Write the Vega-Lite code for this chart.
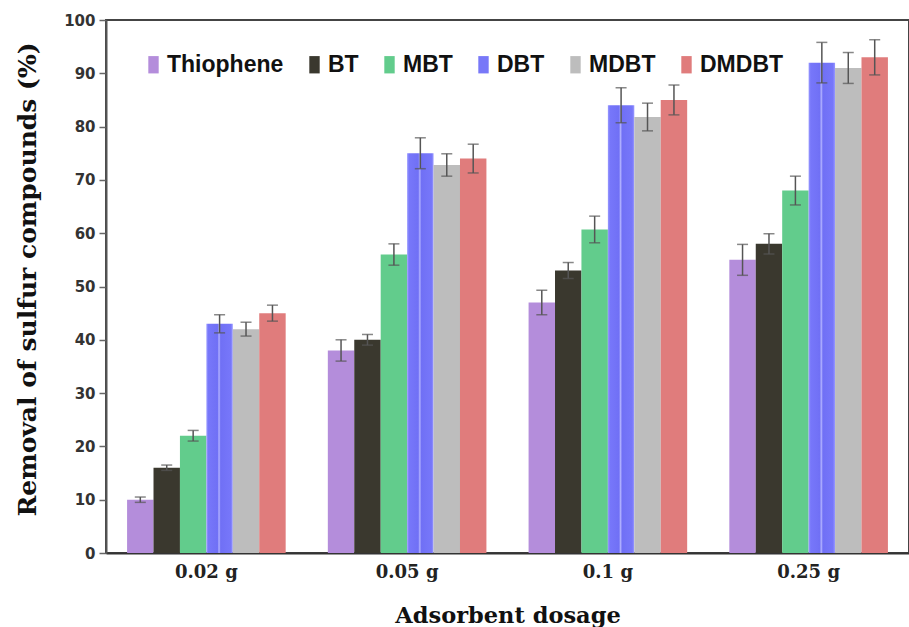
{
  "$schema": "https://vega.github.io/schema/vega-lite/v6.json",
  "width": 803,
  "height": 533,
  "autosize": {"type": "none"},
  "padding": {"left": 106, "top": 20, "right": 0, "bottom": 74},
  "background": "white",
  "config": {
    "view": {"stroke": "#444", "strokeWidth": 2},
    "axis": {"grid": false}
  },
  "data": {
    "values": [
      {"dosage": "0.02 g", "series": "Thiophene", "value": 10, "err": 0.5},
      {"dosage": "0.02 g", "series": "BT", "value": 16, "err": 0.5},
      {"dosage": "0.02 g", "series": "MBT", "value": 22, "err": 1},
      {"dosage": "0.02 g", "series": "DBT", "value": 43, "err": 1.7},
      {"dosage": "0.02 g", "series": "MDBT", "value": 42, "err": 1.3},
      {"dosage": "0.02 g", "series": "DMDBT", "value": 45, "err": 1.5},
      {"dosage": "0.05 g", "series": "Thiophene", "value": 38, "err": 2},
      {"dosage": "0.05 g", "series": "BT", "value": 40, "err": 1},
      {"dosage": "0.05 g", "series": "MBT", "value": 56, "err": 2},
      {"dosage": "0.05 g", "series": "DBT", "value": 75, "err": 2.9},
      {"dosage": "0.05 g", "series": "MDBT", "value": 72.8, "err": 2.1},
      {"dosage": "0.05 g", "series": "DMDBT", "value": 74, "err": 2.7},
      {"dosage": "0.1 g", "series": "Thiophene", "value": 47, "err": 2.3},
      {"dosage": "0.1 g", "series": "BT", "value": 53, "err": 1.5},
      {"dosage": "0.1 g", "series": "MBT", "value": 60.7, "err": 2.5},
      {"dosage": "0.1 g", "series": "DBT", "value": 84, "err": 3.3},
      {"dosage": "0.1 g", "series": "MDBT", "value": 81.8, "err": 2.6},
      {"dosage": "0.1 g", "series": "DMDBT", "value": 85, "err": 2.8},
      {"dosage": "0.25 g", "series": "Thiophene", "value": 55, "err": 2.9},
      {"dosage": "0.25 g", "series": "BT", "value": 58, "err": 1.9},
      {"dosage": "0.25 g", "series": "MBT", "value": 68, "err": 2.7},
      {"dosage": "0.25 g", "series": "DBT", "value": 92, "err": 3.8},
      {"dosage": "0.25 g", "series": "MDBT", "value": 91, "err": 2.9},
      {"dosage": "0.25 g", "series": "DMDBT", "value": 93, "err": 3.3}
    ]
  },
  "encoding": {
    "x": {
      "field": "dosage",
      "type": "nominal",
      "sort": ["0.02 g", "0.05 g", "0.1 g", "0.25 g"],
      "scale": {"paddingInner": 0.21, "paddingOuter": 0.105},
      "axis": {
        "title": "Adsorbent dosage",
        "titleFont": "DejaVu Serif",
        "titleFontSize": 22.5,
        "titleFontWeight": "bold",
        "titleColor": "#111",
        "titlePadding": 23,
        "labelAngle": 0,
        "labelFont": "DejaVu Serif",
        "labelFontSize": 18,
        "labelFontWeight": "bold",
        "labelColor": "#222",
        "labelPadding": 10,
        "ticks": false,
        "domainColor": "#333",
        "domainWidth": 2
      }
    },
    "xOffset": {
      "field": "series",
      "type": "nominal",
      "sort": ["Thiophene", "BT", "MBT", "DBT", "MDBT", "DMDBT"]
    }
  },
  "layer": [
    {
      "mark": {"type": "bar"},
      "encoding": {
        "y": {
          "field": "value",
          "type": "quantitative",
          "title": "Removal of sulfur compounds (%)",
          "scale": {"domain": [0, 100], "nice": false},
          "axis": {
            "titleFont": "DejaVu Serif",
            "titleFontSize": 25,
            "titleFontWeight": "bold",
            "titleColor": "#111",
            "titleX": -79,
            "titleY": 259,
            "titleAngle": -90,
            "titleAlign": "center",
            "titleBaseline": "middle",
            "values": [0, 10, 20, 30, 40, 50, 60, 70, 80, 90, 100],
            "labelFont": "DejaVu Sans",
            "labelFontSize": 15,
            "labelFontWeight": "bold",
            "labelColor": "#333",
            "labelPadding": 4,
            "tickSize": 7,
            "tickColor": "#666",
            "tickWidth": 1.5,
            "domainColor": "#555",
            "domainWidth": 2
          }
        },
        "fill": {
          "condition": {
            "test": "datum.series === 'DBT'",
            "value": {
              "gradient": "linear",
              "x1": 0, "y1": 0, "x2": 1, "y2": 0,
              "stops": [
                {"offset": 0, "color": "#9a9aff"},
                {"offset": 0.08, "color": "#7777fa"},
                {"offset": 0.42, "color": "#7070f5"},
                {"offset": 0.48, "color": "#b0b0ff"},
                {"offset": 0.54, "color": "#7070f5"},
                {"offset": 0.92, "color": "#7777fa"},
                {"offset": 1, "color": "#9a9aff"}
              ]
            }
          },
          "field": "series",
          "type": "nominal",
          "sort": ["Thiophene", "BT", "MBT", "DBT", "MDBT", "DMDBT"],
          "scale": {
            "domain": ["Thiophene", "BT", "MBT", "DBT", "MDBT", "DMDBT"],
            "range": ["#b48ddb", "#3a382e", "#62cc8c", "#7878f8", "#bdbdbd", "#e07c7c"]
          },
          "legend": {
            "title": null,
            "orient": "none",
            "direction": "horizontal",
            "legendX": 36,
            "legendY": 33,
            "labelFont": "Liberation Sans",
            "labelFontSize": 23,
            "labelFontWeight": "bold",
            "labelColor": "#111",
            "labelOffset": 2,
            "columnPadding": 19,
            "symbolType": "M-0.6,-1H0.6V1H-0.6Z",
            "symbolSize": 300,
            "symbolStrokeWidth": 0,
            "symbolOpacity": 1
          }
        }
      }
    },
    {
      "mark": {
        "type": "errorbar",
        "color": "#555",
        "ticks": {"size": 11, "thickness": 1.5, "color": "#555"},
        "rule": {"strokeWidth": 1.5, "color": "#555"}
      },
      "encoding": {
        "y": {"field": "value", "type": "quantitative", "title": "Removal of sulfur compounds (%)"},
        "yError": {"field": "err"}
      }
    }
  ]
}
